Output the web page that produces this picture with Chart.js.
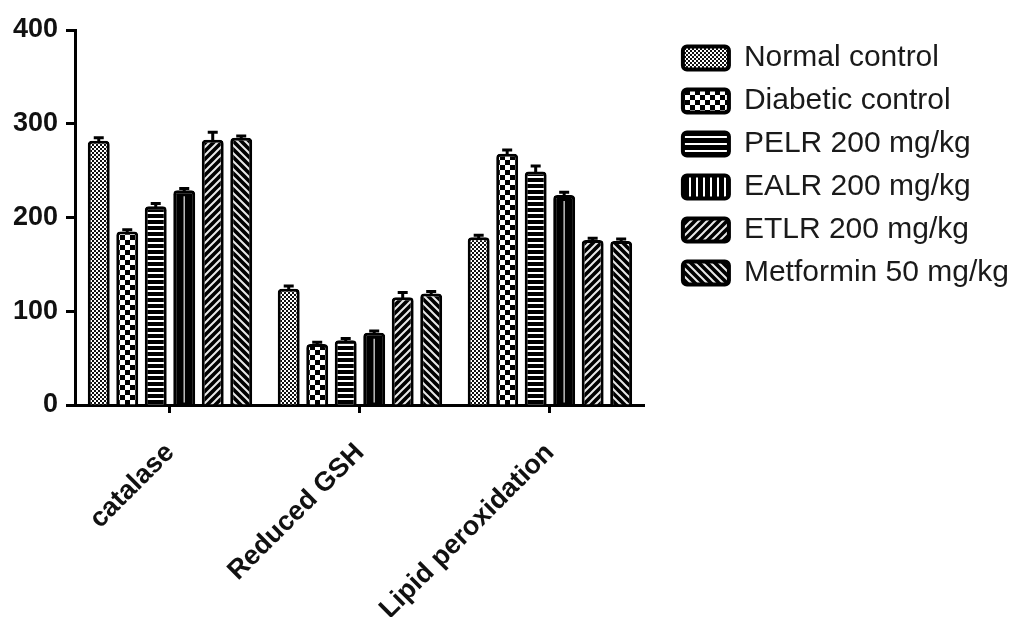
<!DOCTYPE html>
<html>
<head>
<meta charset="utf-8">
<script src="https://cdn.jsdelivr.net/npm/chart.js@4.4.1/dist/chart.umd.min.js"></script>
<style>
  html, body { margin: 0; padding: 0; background: #ffffff; }
  #wrap { width: 1021px; height: 617px; position: relative; }
</style>
</head>
<body>
<div id="wrap"><canvas id="chart" width="1021" height="617"></canvas></div>
<script>
// Antioxidant markers per treatment group (mean and SEM)
const categories = ['catalase', 'Reduced GSH', 'Lipid peroxidation'];
const groupNames = ['Normal control', 'Diabetic control', 'PELR 200 mg/kg', 'EALR 200 mg/kg', 'ETLR 200 mg/kg', 'Metformin 50 mg/kg'];

const normalControl   = [282, 124, 179];
const diabeticControl = [185, 65, 268];
const pelr200         = [212, 69, 249];
const ealr200         = [229, 77, 224];
const etlr200         = [283, 115, 176];
const metformin50     = [285, 119, 175];

const normalControlSem   = [3, 3, 2];
const diabeticControlSem = [2, 2, 4];
const pelr200Sem         = [3, 2, 6];
const ealr200Sem         = [2, 2, 3];
const etlr200Sem         = [8, 5, 2];
const metformin50Sem     = [2, 2, 2];

const yTickValues = [0, 100, 200, 300, 400];

const FONT = "'Liberation Sans', Arial, Helvetica, sans-serif";

// ---- fill patterns ----
function makeTile(w, h, paint) {
  const c = document.createElement('canvas');
  c.width = w; c.height = h;
  const g = c.getContext('2d');
  paint(g, w, h);
  return document.getElementById('chart').getContext('2d').createPattern(c, 'repeat');
}

const fineCheck = makeTile(4, 4, (g) => {
  g.fillStyle = '#ffffff'; g.fillRect(0, 0, 4, 4);
  g.fillStyle = '#111111'; g.fillRect(0, 0, 2, 2); g.fillRect(2, 2, 2, 2);
});
const bigCheck = makeTile(10, 10, (g) => {
  g.fillStyle = '#000000'; g.fillRect(0, 0, 10, 10);
  g.fillStyle = '#ffffff'; g.fillRect(0, 0, 5, 5); g.fillRect(5, 5, 5, 5);
});
const hStripes = makeTile(6, 6, (g) => {
  g.fillStyle = '#000000'; g.fillRect(0, 0, 6, 6);
  g.fillStyle = '#ffffff'; g.fillRect(0, 2, 6, 2);
});
const hStripesWide = makeTile(7, 7, (g) => {
  g.fillStyle = '#000000'; g.fillRect(0, 0, 7, 7);
  g.fillStyle = '#ffffff'; g.fillRect(0, 3, 7, 2);
});
const vStripes = makeTile(7, 7, (g) => {
  g.fillStyle = '#000000'; g.fillRect(0, 0, 7, 7);
  g.fillStyle = '#ffffff'; g.fillRect(3, 0, 2, 7);
});
function diagTile(up) {
  return makeTile(8, 8, (g) => {
    g.fillStyle = '#000000'; g.fillRect(0, 0, 8, 8);
    g.strokeStyle = '#e8e8e8'; g.lineWidth = 2;
    g.beginPath();
    if (up) {
      g.moveTo(-2, 10); g.lineTo(10, -2);
      g.moveTo(-2, 2); g.lineTo(2, -2);
      g.moveTo(6, 10); g.lineTo(10, 6);
    } else {
      g.moveTo(-2, -2); g.lineTo(10, 10);
      g.moveTo(-2, 6); g.lineTo(2, 10);
      g.moveTo(6, -2); g.lineTo(10, 2);
    }
    g.stroke();
  });
}
const diagUp = diagTile(true);
const diagDown = diagTile(false);

const seriesValues = [normalControl, diabeticControl, pelr200, ealr200, etlr200, metformin50];
const seriesSem = [normalControlSem, diabeticControlSem, pelr200Sem, ealr200Sem, etlr200Sem, metformin50Sem];
const barFills = [fineCheck, bigCheck, hStripes, '#000000', diagUp, diagDown];
const legendFills = [fineCheck, bigCheck, hStripesWide, vStripes, diagUp, diagDown];

const datasets = groupNames.map((name, i) => ({
  label: name,
  data: seriesValues[i],
  sem: seriesSem[i],
  backgroundColor: barFills[i],
  borderColor: '#000000',
  borderWidth: 3,
  borderSkipped: 'start',
  borderRadius: { topLeft: 4, topRight: 4 },
  categoryPercentage: 0.9,
  barPercentage: 0.77
}));

// upper SEM whiskers with caps
const semWhiskers = {
  id: 'semWhiskers',
  afterDatasetsDraw(chart) {
    const { ctx } = chart;
    const y = chart.scales.y;
    chart.data.datasets.forEach((ds, i) => {
      const meta = chart.getDatasetMeta(i);
      meta.data.forEach((bar, j) => {
        const top = y.getPixelForValue(ds.data[j] + ds.sem[j]);
        ctx.save();
        ctx.strokeStyle = '#000000';
        ctx.lineWidth = 3;
        ctx.beginPath();
        ctx.moveTo(bar.x, bar.y + 1);
        ctx.lineTo(bar.x, top);
        ctx.moveTo(bar.x - 5, top);
        ctx.lineTo(bar.x + 5, top);
        ctx.stroke();
        ctx.restore();
      });
    });
  }
};

// thin centre rule inside the solid EALR bars
const centreRule = {
  id: 'centreRule',
  afterDatasetDraw(chart, args) {
    if (args.index !== 3) return;
    const { ctx } = chart;
    args.meta.data.forEach((bar) => {
      ctx.save();
      ctx.strokeStyle = '#bdbdbd';
      ctx.lineWidth = 1.5;
      ctx.beginPath();
      ctx.moveTo(bar.x, bar.y + 6);
      ctx.lineTo(bar.x, bar.base - 2);
      ctx.stroke();
      ctx.restore();
    });
  }
};

new Chart(document.getElementById('chart'), {
  type: 'bar',
  data: { labels: categories, datasets },
  plugins: [semWhiskers, centreRule],
  options: {
    responsive: false,
    animation: false,
    layout: { padding: { top: 30, right: 2, bottom: 0, left: 0 } },
    plugins: {
      tooltip: { enabled: false },
      legend: {
        position: 'right',
        align: 'start',
        maxWidth: 420,
        labels: {
          color: '#1a1a1a',
          font: { family: FONT, size: 30 },
          boxWidth: 46,
          boxHeight: 23,
          padding: 13,
          generateLabels(chart) {
            return chart.data.datasets.map((ds, i) => ({
              text: ds.label,
              fillStyle: legendFills[i],
              strokeStyle: '#000000',
              lineWidth: 4,
              borderRadius: 4,
              hidden: false,
              datasetIndex: i,
              fontColor: '#1a1a1a'
            }));
          }
        }
      }
    },
    scales: {
      x: {
        offset: true,
        grid: {
          display: true,
          drawOnChartArea: false,
          drawTicks: true,
          offset: false,
          tickLength: 8,
          tickWidth: 3,
          tickColor: '#000000'
        },
        border: { display: true, color: '#000000', width: 3 },
        ticks: {
          color: '#111111',
          font: { family: FONT, size: 27, weight: 'bold' },
          minRotation: 45,
          maxRotation: 45,
          padding: 24
        },
        afterFit(s) { s.height = 212; }
      },
      y: {
        min: 0,
        max: 400,
        afterBuildTicks(s) { s.ticks = yTickValues.map(v => ({ value: v })); },
        grid: {
          display: true,
          drawOnChartArea: false,
          drawTicks: true,
          tickLength: 9,
          tickWidth: 3,
          tickColor: '#000000'
        },
        border: { display: true, color: '#000000', width: 3 },
        ticks: {
          color: '#111111',
          font: { family: FONT, size: 27, weight: 'bold' },
          padding: 8
        },
        afterFit(s) { s.width = 75; }
      },
      gap: {
        position: 'right',
        display: true,
        grid: { display: false, drawTicks: false },
        border: { display: false },
        ticks: { display: false },
        afterFit(s) { s.width = 25; }
      }
    }
  }
});
</script>
</body>
</html>
